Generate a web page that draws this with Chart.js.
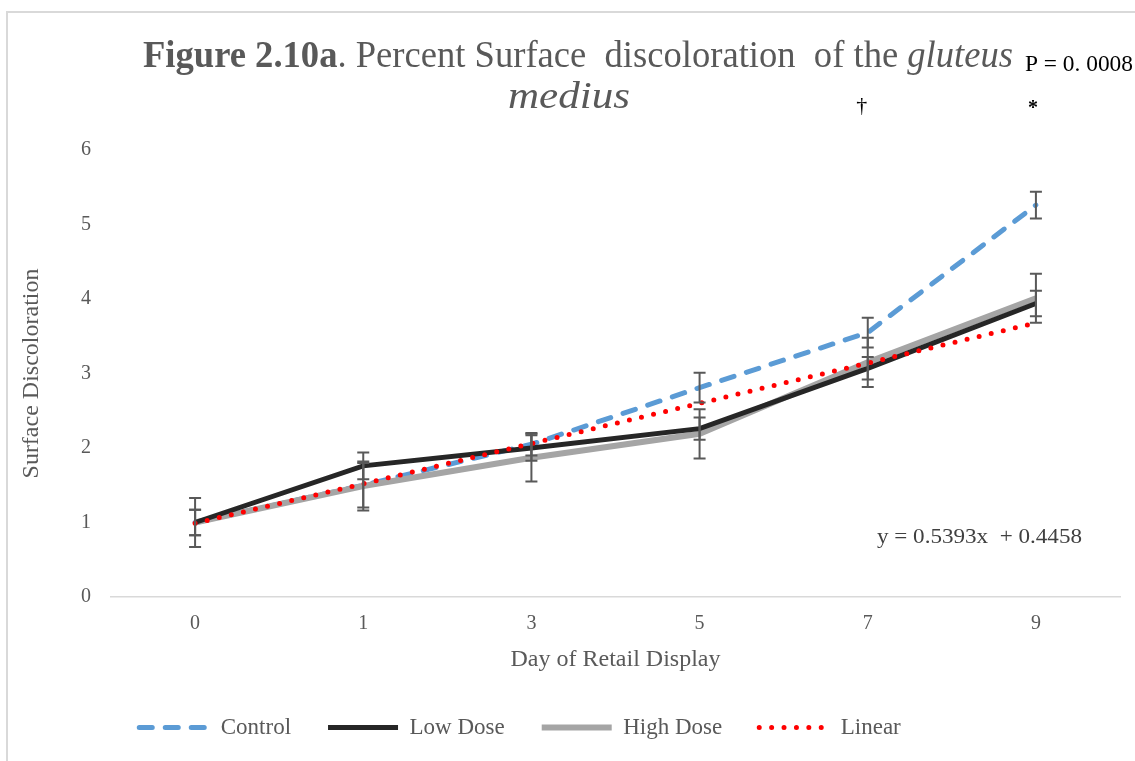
<!DOCTYPE html>
<html>
<head>
<meta charset="utf-8">
<script src="https://cdn.jsdelivr.net/npm/chart.js@4.4.0/dist/chart.umd.min.js"></script>
<style>
  html, body { margin: 0; padding: 0; background: #fff; }
  #wrap { position: relative; width: 1135px; height: 761px; }
  #frame { position: absolute; left: 6px; top: 11px; right: 0; bottom: 0;
           border-left: 2px solid #d9d9d9; border-top: 2px solid #d9d9d9; }
  #c { position: absolute; left: 0; top: 0; }
</style>
</head>
<body>
<div id="wrap"><div id="frame"></div><canvas id="c" width="1135" height="761"></canvas></div>
<script>
const DAYS = ["0", "1", "3", "5", "7", "9"];
const CONTROL    = [1.00, 1.50, 2.05, 2.81, 3.55, 5.26];
const CONTROL_SE = [0.17, 0.30, 0.15, 0.20, 0.20, 0.18];
const LOW        = [1.00, 1.76, 2.00, 2.26, 3.07, 3.94];
const LOW_SE     = [0.17, 0.18, 0.17, 0.15, 0.15, 0.17];
const HIGH       = [1.00, 1.49, 1.87, 2.19, 3.15, 4.01];
const HIGH_SE    = [0.33, 0.33, 0.32, 0.33, 0.33, 0.33];
const LINEAR     = [0.99, 1.52, 2.06, 2.60, 3.14, 3.68];
const Y_TICKS    = [0, 1, 2, 3, 4, 5, 6];

const SERIF = "'Liberation Serif', 'Times New Roman', serif";
const GREY_TEXT = "#595959";

// Text in Läufen (fett/normal/kursiv) zeichnen, horizontal auf Zielbreite gestaucht
function drawRuns(ctx, runs, x, y, targetW) {
  let w = 0;
  runs.forEach(r => { ctx.font = r.font; w += ctx.measureText(r.text).width; });
  const sx = targetW ? targetW / w : 1;
  ctx.save();
  ctx.translate(x, y);
  ctx.scale(sx, 1);
  let cx = 0;
  runs.forEach(r => {
    ctx.font = r.font;
    ctx.fillStyle = r.color;
    ctx.fillText(r.text, cx, 0);
    cx += ctx.measureText(r.text).width;
  });
  ctx.restore();
}

const errorBars = {
  id: "errorBars",
  afterDatasetsDraw(chart) {
    const { ctx, scales: { x, y } } = chart;
    ctx.save();
    ctx.strokeStyle = "#595959";
    ctx.lineWidth = 2;
    chart.data.datasets.forEach(ds => {
      if (!ds.errors) return;
      ds.data.forEach((v, j) => {
        const px = x.getPixelForValue(j);
        const top = y.getPixelForValue(v + ds.errors[j]);
        const bot = y.getPixelForValue(v - ds.errors[j]);
        ctx.beginPath();
        ctx.moveTo(px, top); ctx.lineTo(px, bot);
        ctx.moveTo(px - 6, top); ctx.lineTo(px + 6, top);
        ctx.moveTo(px - 6, bot); ctx.lineTo(px + 6, bot);
        ctx.stroke();
      });
    });
    ctx.restore();
  }
};

const annotations = {
  id: "annotations",
  afterLayout(chart) {
    // Legende sitzt im Original etwas links der Mitte
    chart.legend.left -= 44;
    chart.legend.right -= 44;
  },
  afterDraw(chart) {
    const { ctx, chartArea: a, scales: { x } } = chart;
    ctx.save();
    ctx.textBaseline = "alphabetic";
    ctx.textAlign = "left";
    drawRuns(ctx, [
      { text: "Figure 2.10a", font: `bold 38px ${SERIF}`, color: GREY_TEXT },
      { text: ". Percent Surface  discoloration  of the ", font: `38px ${SERIF}`, color: GREY_TEXT },
      { text: "gluteus", font: `italic 38px ${SERIF}`, color: GREY_TEXT }
    ], 143, 67, 870);
    drawRuns(ctx, [{ text: "medius", font: `italic 38px ${SERIF}`, color: GREY_TEXT }], 508, 108, 122);

    drawRuns(ctx, [{ text: "P = 0. 0008", font: `23px ${SERIF}`, color: "#000" }], 1025, 71, 108);

    ctx.fillStyle = "#000";
    ctx.textAlign = "center";
    ctx.font = `22px ${SERIF}`;
    ctx.fillText("\u2020", x.getPixelForValue(4) - 6, 112);
    ctx.font = `bold 20px ${SERIF}`;
    ctx.fillText("*", x.getPixelForValue(5) - 3, 114);

    ctx.textAlign = "left";
    drawRuns(ctx, [{ text: "y = 0.5393x  + 0.4458", font: `22px ${SERIF}`, color: "#404040" }],
      a.right - 243, a.bottom - 54, 205);
    ctx.restore();
  }
};

// Legendenlinien sollen Strichmuster der Datensätze übernehmen
function legendLabels(chart) {
  return Chart.defaults.plugins.legend.labels.generateLabels(chart).map(l => {
    const ds = chart.data.datasets[l.datasetIndex];
    return Object.assign(l, {
      lineDash: ds.borderDash || [],
      lineCap: ds.borderCapStyle || "butt",
      lineWidth: ds.borderWidth,
      strokeStyle: ds.borderColor
    });
  });
}

new Chart(document.getElementById("c"), {
  type: "line",
  data: {
    labels: DAYS,
    datasets: [
      { label: "Control", data: CONTROL, errors: CONTROL_SE, borderColor: "#5b9bd5",
        borderWidth: 5, borderDash: [13, 13], borderCapStyle: "round", order: 3 },
      { label: "Low Dose", data: LOW, errors: LOW_SE, borderColor: "#262626",
        borderWidth: 5, order: 1 },
      { label: "High Dose", data: HIGH, errors: HIGH_SE, borderColor: "#a5a5a5",
        borderWidth: 6, order: 2 },
      { label: "Linear", data: LINEAR, borderColor: "#ff0000",
        borderWidth: 5, borderDash: [0, 12.4], borderCapStyle: "round", order: 0 }
    ]
  },
  options: {
    responsive: false,
    animation: false,
    layout: { padding: { left: 8, right: 15, top: 150, bottom: 12 } },
    elements: { point: { radius: 0 }, line: { tension: 0, fill: false } },
    scales: {
      x: {
        offset: true,
        grid: { display: false, drawTicks: false },
        border: { display: true, color: "#d9d9d9", width: 1.5 },
        ticks: { color: GREY_TEXT, font: { family: SERIF, size: 20 }, padding: 15 },
        title: { display: true, text: "Day of Retail Display", color: GREY_TEXT,
                 font: { family: SERIF, size: 24 }, padding: { top: 0, bottom: 5 } },
        afterFit: s => { s.height = 82; }
      },
      y: {
        min: Y_TICKS[0], max: Y_TICKS[Y_TICKS.length - 1],
        grid: { display: false, drawTicks: false },
        border: { display: false },
        ticks: { stepSize: 1, color: GREY_TEXT, font: { family: SERIF, size: 20 }, padding: 20 },
        title: { display: true, text: "Surface Discoloration", color: GREY_TEXT,
                 font: { family: SERIF, size: 24 }, padding: { top: 9, bottom: 0 } },
        afterFit: s => { s.width = 103; }
      }
    },
    plugins: {
      legend: {
        position: "bottom",
        labels: {
          usePointStyle: true, pointStyle: "line", pointStyleWidth: 70,
          color: GREY_TEXT, font: { family: SERIF, size: 23 }, padding: 37,
          generateLabels: legendLabels,
          sort: (a, b) => a.datasetIndex - b.datasetIndex
        }
      },
      tooltip: { enabled: false }
    }
  },
  plugins: [errorBars, annotations]
});
</script>
</body>
</html>
